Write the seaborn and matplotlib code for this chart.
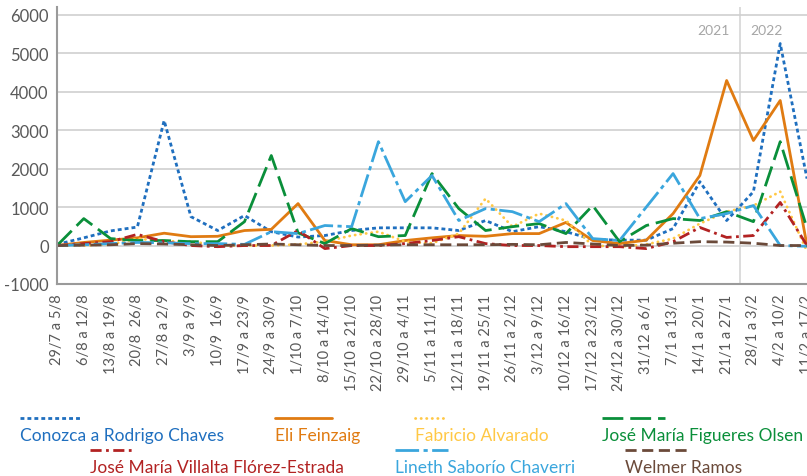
import matplotlib
matplotlib.use('Agg')
import matplotlib.pyplot as plt
import seaborn as sns
from matplotlib.lines import Line2D

# Weekly data
semanas = ['29/7 a 5/8', '6/8 a 12/8', '13/8 a 19/8', '20/8  26/8', '27/8 a 2/9', '3/9 a 9/9',
           '10/9  16/9', '17/9 a 23/9', '24/9 a 30/9', '1/10 a 7/10', '8/10 a 14/10',
           '15/10 a 21/10', '22/10 a 28/10', '29/10 a 4/11', '5/11 a 11/11', '12/11 a 18/11',
           '19/11 a 25/11', '26/11 a 2/12', '3/12 a 9/12', '10/12 a 16/12', '17/12 a 23/12',
           '24/12 a 30/12', '31/12 a 6/1', '7/1 a 13/1', '14/1 a 20/1', '21/1 a 27/1',
           '28/1 a 3/2', '4/2 a 10/2', '11/2 a 17/2']

chaves = [30, 200, 380, 480, 3250, 750, 390, 780, 360, 220, 260, 390, 460, 460, 460, 390, 650,
          360, 490, 360, 160, 140, 140, 440, 1660, 650, 1400, 5250, 1740]
feinzaig = [0, 80, 140, 200, 320, 230, 240, 390, 420, 1090, 130, 20, 20, 130, 200, 260, 240, 310,
            310, 600, 130, 50, 140, 830, 1820, 4290, 2730, 3770, 0]
alvarado = [0, 0, 30, 180, 110, 110, 0, 0, 0, 30, 100, 260, 360, 100, 60, 310, 1220, 490, 830,
            650, 0, -30, 30, 180, 570, 880, 1040, 1400, -150]
figueres = [0, 700, 180, 130, 130, 100, 100, 620, 2340, 330, 50, 440, 230, 260, 1870, 960, 390,
            490, 570, 310, 1040, 100, 520, 700, 650, 880, 620, 2700, 450]
villalta = [0, 50, 100, 290, 100, 0, -30, 0, 0, 390, -80, 0, 0, 50, 130, 230, 50, 0, 0, -30,
            -30, -30, -80, 100, 470, 210, 260, 1120, 0]
saborio = [0, 20, 50, 80, 70, 50, 50, 30, 360, 310, 520, 490, 2700, 1140, 1820, 650, 960, 880,
           620, 1090, 180, 130, 1000, 1870, 700, 830, 1040, 0, -20]
ramos = [0, 10, 20, 50, 40, 20, 0, 20, 40, 20, 0, 0, 10, 20, 20, 20, 20, 30, 20, 80, 40, 0, 10,
         60, 100, 90, 60, 0, 0]

nombres = ['Conozca a Rodrigo Chaves', 'Eli Feinzaig', 'Fabricio Alvarado',
           'José María Figueres Olsen', 'José María Villalta Flórez-Estrada',
           'Lineth Saborío Chaverri', 'Welmer Ramos']
series = [chaves, feinzaig, alvarado, figueres, villalta, saborio, ramos]
colores = ['#1f6fbf', '#e07b12', '#ffc845', '#0a8f3a', '#b22222', '#3aa6dd', '#6b4a3a']
estilos = [(0, (1.4, 1.1)), '-', (0, (0.1, 1.9)), (0, (7.5, 2.5)), (0, (4, 1.6, 1, 1.6)),
           (0, (8.5, 1.6, 1.5, 1.6)), (0, (4, 2))]
caps = ['butt', 'butt', 'round', 'butt', 'butt', 'butt', 'butt']

sns.set_style('white')
plt.rcParams['font.family'] = ['Lato', 'DejaVu Sans']
fig = plt.figure(figsize=(8.07, 4.77), dpi=100)
ax = fig.add_axes([57 / 807, 1 - 285 / 477, 750 / 807, 277 / 477])

x = list(range(len(semanas)))
for vals, c, ls, cap in zip(series, colores, estilos, caps):
    sns.lineplot(x=x, y=vals, ax=ax, color=c, linestyle=ls, linewidth=2.0)
    ln = ax.lines[-1]
    ln.set_dash_capstyle(cap)
    ln.set_solid_capstyle('butt')

ax.set_xlim(0, len(semanas) - 1)
ax.set_ylim(-1000, 6200)
ax.set_yticks(range(-1000, 6001, 1000))
ax.set_yticklabels([str(v) for v in range(-1000, 6001, 1000)], fontsize=12, color='#595959')
ax.set_xticks(x)
ax.set_xticklabels(semanas, rotation=90, fontsize=10.5, color='#595959')
ax.tick_params(axis='x', length=0, pad=7)
ax.tick_params(axis='y', length=4, width=1.2, color='#999999', pad=2)
ax.grid(axis='y', color='#cfcfcf', linewidth=1.2)
ax.set_axisbelow(True)
for s in ['top', 'right']:
    ax.spines[s].set_visible(False)
for s in ['left', 'bottom']:
    ax.spines[s].set_color('#9a9a9a')
    ax.spines[s].set_linewidth(1.5)
ax.set_xlabel('')
ax.set_ylabel('')

# year separator
ax.axvline(25.5, color='#d6d6d6', linewidth=1.2, zorder=0)
ax.text(24.5, 5600, '2021', ha='center', va='center', fontsize=10, color='#a6a6a6')
ax.text(26.5, 5600, '2022', ha='center', va='center', fontsize=10, color='#a6a6a6')

# legend: line sample above coloured label
leg = [(20, 80, 419), (275, 332, 419), (415, 445, 419), (602, 665, 419),
       (90, 135, 451), (395, 448, 451), (625, 690, 451)]
for (x0, x1, yy), nombre, c, ls, cap in zip(leg, nombres, colores, estilos, caps):
    ln = Line2D([x0 / 807, x1 / 807], [1 - yy / 477, 1 - yy / 477], transform=fig.transFigure,
                color=c, linestyle=ls, linewidth=2.0)
    ln.set_dash_capstyle(cap)
    fig.add_artist(ln)
    fig.text(x0 / 807, 1 - (yy + 17) / 477, nombre, color=c, fontsize=12.5,
             ha='left', va='center')

fig.savefig('out.png', dpi=100)
